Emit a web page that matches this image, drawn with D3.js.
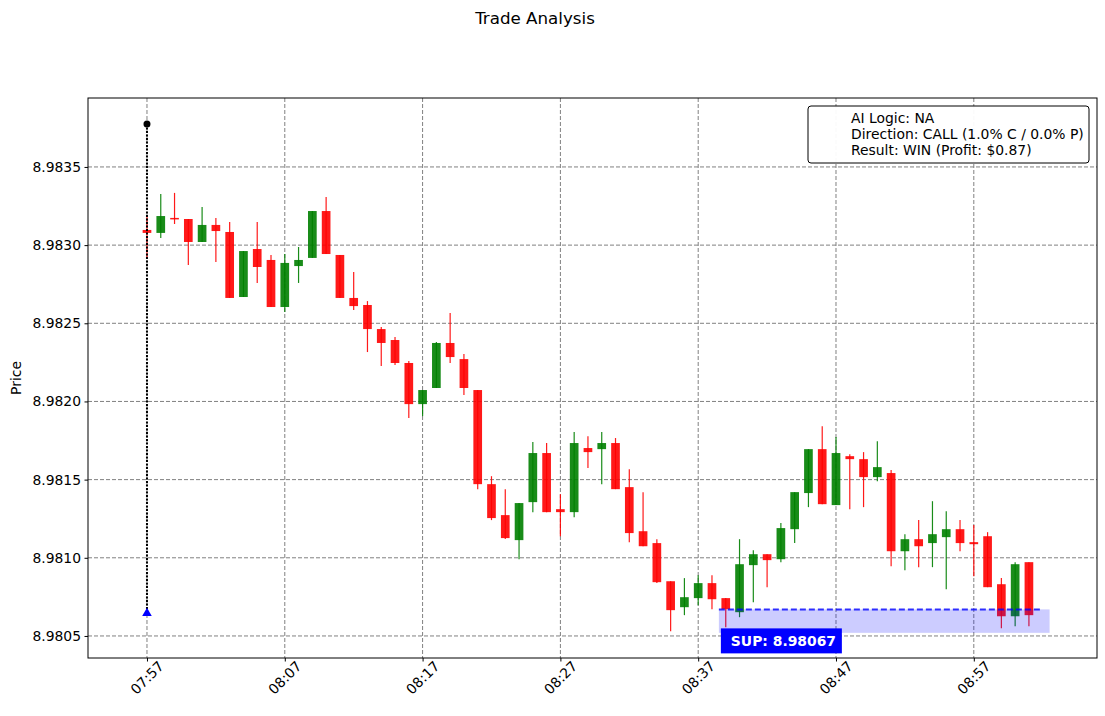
<!DOCTYPE html>
<html>
<head>
<meta charset="utf-8">
<script src="https://cdn.jsdelivr.net/npm/d3@7"></script>
<style>
  body { margin: 0; background: #fff; }
  text { font-family: "DejaVu Sans", sans-serif; }
</style>
</head>
<body>
<svg id="chart" width="1105" height="716"></svg>
<script>
// candle data, one per minute from 07:57
var times = ["07:57","07:58","07:59","08:00","08:01","08:02","08:03","08:04","08:05","08:06",
  "08:07","08:08","08:09","08:10","08:11","08:12","08:13","08:14","08:15","08:16",
  "08:17","08:18","08:19","08:20","08:21","08:22","08:23","08:24","08:25","08:26",
  "08:27","08:28","08:29","08:30","08:31","08:32","08:33","08:34","08:35","08:36",
  "08:37","08:38","08:39","08:40","08:41","08:42","08:43","08:44","08:45","08:46",
  "08:47","08:48","08:49","08:50","08:51","08:52","08:53","08:54","08:55","08:56",
  "08:57","08:58","08:59","09:00","09:01"];
var opens = [8.983097,8.983078,8.983174,8.983167,8.983020,8.983129,8.983084,8.982668,8.982975,8.982905,
  8.982604,8.982866,8.982918,8.983218,8.982937,8.982662,8.982617,8.982463,8.982393,8.982246,
  8.981983,8.982086,8.982374,8.982271,8.982073,8.981471,8.981273,8.981113,8.981356,8.981670,
  8.981311,8.981292,8.981702,8.981695,8.981734,8.981452,8.981170,8.981094,8.980850,8.980684,
  8.980742,8.980838,8.980742,8.980652,8.980953,8.981023,8.980991,8.981183,8.981414,8.981695,
  8.981337,8.981650,8.981631,8.981516,8.981542,8.981042,8.981119,8.981094,8.981132,8.981183,
  8.981100,8.981138,8.980831,8.980626,8.980972];
var highs = [8.983180,8.983327,8.983334,8.983167,8.983244,8.983174,8.983148,8.982962,8.983148,8.982937,
  8.982943,8.982988,8.983218,8.983308,8.982937,8.982828,8.982642,8.982476,8.982412,8.982258,
  8.982073,8.982380,8.982566,8.982303,8.982073,8.981522,8.981439,8.981350,8.981740,8.981734,
  8.981407,8.981804,8.981778,8.981804,8.981766,8.981567,8.981420,8.981119,8.980850,8.980870,
  8.980889,8.980889,8.980742,8.981119,8.981049,8.981023,8.981222,8.981420,8.981695,8.981842,
  8.981772,8.981663,8.981676,8.981746,8.981561,8.981151,8.981241,8.981362,8.981298,8.981241,
  8.981209,8.981164,8.980870,8.980972,8.980972];
var lows = [8.982924,8.983046,8.983135,8.982873,8.983020,8.982892,8.982662,8.982668,8.982758,8.982604,
  8.982572,8.982758,8.982918,8.982943,8.982662,8.982585,8.982316,8.982226,8.982233,8.981894,
  8.981906,8.982086,8.982246,8.982041,8.981439,8.981241,8.981120,8.980991,8.981292,8.981292,
  8.981138,8.981260,8.981574,8.981471,8.981439,8.981100,8.981074,8.980838,8.980530,8.980633,
  8.980697,8.980671,8.980556,8.980620,8.980716,8.980812,8.980972,8.981094,8.981324,8.981343,
  8.981337,8.981311,8.981324,8.981490,8.980946,8.980921,8.980940,8.980940,8.980799,8.981042,
  8.980882,8.980812,8.980550,8.980562,8.980562];
var closes = [8.983078,8.983186,8.983167,8.983020,8.983129,8.983090,8.982662,8.982962,8.982860,8.982604,
  8.982886,8.982905,8.983218,8.982943,8.982662,8.982610,8.982463,8.982374,8.982246,8.981983,
  8.982073,8.982374,8.982284,8.982086,8.981471,8.981254,8.981126,8.981350,8.981670,8.981292,
  8.981292,8.981734,8.981676,8.981734,8.981439,8.981158,8.981074,8.980844,8.980665,8.980748,
  8.980838,8.980735,8.980671,8.980959,8.981023,8.980985,8.981190,8.981420,8.981695,8.981343,
  8.981670,8.981631,8.981516,8.981580,8.981042,8.981119,8.981074,8.981151,8.981183,8.981094,
  8.981087,8.980812,8.980626,8.980959,8.980633];

var xTickLabels = ["07:57","08:07","08:17","08:27","08:37","08:47","08:57"];
var yTicks = [8.9805, 8.9810, 8.9815, 8.9820, 8.9825, 8.9830, 8.9835];

// trade markers and support zone
var entryTime = "07:57";
var entryTop = 8.983775;
var entryBottom = 8.980639;
var supLevel = 8.98067;
var supZoneLow = 8.98052;
var supStartMin = 41.5, supLineEndMin = 65.0, supZoneEndMin = 65.5;

var legendLines = ["AI Logic: NA", "Direction: CALL (1.0% C / 0.0% P)", "Result: WIN (Profit: $0.87)"];

var parseTime = d3.timeParse("%H:%M");
var fmt = d3.timeFormat("%H:%M");
var t0 = parseTime(times[0]);
var addMin = function (m) { return new Date(t0.getTime() + m * 60000); };

var data = times.map(function (t, i) {
  return { date: parseTime(t), open: opens[i], high: highs[i], low: lows[i], close: closes[i] };
});

var margin = { left: 88, top: 98, right: 1097, bottom: 658 };
var svg = d3.select("#chart");

var xScale = d3.scaleTime()
  .domain([addMin(-4.28), addMin(68.94)])
  .range([margin.left, margin.right]);
var yScale = d3.scaleLinear()
  .domain([8.980359, 8.983941])
  .range([margin.bottom, margin.top]);

var isUpDay = function (d) { return d.close > d.open; };
var bodyW = xScale(addMin(0.63)) - xScale(t0);

svg.append("text")
  .attr("x", 535).attr("y", 24)
  .attr("text-anchor", "middle")
  .attr("font-size", "16.7px")
  .text("Trade Analysis");

svg.append("clipPath").attr("id", "plot-clip")
  .append("rect")
  .attr("x", margin.left).attr("y", margin.top)
  .attr("width", margin.right - margin.left)
  .attr("height", margin.bottom - margin.top);

// grid
var grid = svg.append("g").attr("class", "grid");
grid.selectAll(".vgrid").data(xTickLabels).enter().append("line")
  .attr("x1", function (d) { return xScale(parseTime(d)); })
  .attr("x2", function (d) { return xScale(parseTime(d)); })
  .attr("y1", margin.top).attr("y2", margin.bottom)
  .attr("stroke", "#808080").attr("stroke-width", 1).attr("stroke-dasharray", "4,2");
grid.selectAll(".hgrid").data(yTicks).enter().append("line")
  .attr("x1", margin.left).attr("x2", margin.right)
  .attr("y1", function (d) { return yScale(d); })
  .attr("y2", function (d) { return yScale(d); })
  .attr("stroke", "#808080").attr("stroke-width", 1).attr("stroke-dasharray", "4,2");

var plot = svg.append("g").attr("clip-path", "url(#plot-clip)");

// candles
var bars = plot.selectAll(".bar").data(data).enter().append("g").attr("class", "bar");
bars.append("line")
  .attr("x1", function (d) { return xScale(d.date); })
  .attr("x2", function (d) { return xScale(d.date); })
  .attr("y1", function (d) { return yScale(d.high); })
  .attr("y2", function (d) { return yScale(d.low); })
  .attr("stroke", function (d) { return isUpDay(d) ? "green" : "red"; })
  .attr("stroke-opacity", 0.9)
  .attr("stroke-width", 1.2);
bars.append("rect")
  .attr("x", function (d) { return xScale(d.date) - bodyW / 2; })
  .attr("y", function (d) { return yScale(Math.max(d.open, d.close)); })
  .attr("width", bodyW)
  .attr("height", function (d) {
    return Math.max(1.5, Math.abs(yScale(d.open) - yScale(d.close)));
  })
  .attr("fill", function (d) { return isUpDay(d) ? "green" : "red"; })
  .attr("fill-opacity", 0.9);

// support zone
plot.append("rect")
  .attr("x", xScale(addMin(supStartMin)))
  .attr("y", yScale(supLevel))
  .attr("width", xScale(addMin(supZoneEndMin)) - xScale(addMin(supStartMin)))
  .attr("height", yScale(supZoneLow) - yScale(supLevel))
  .attr("fill", "blue").attr("fill-opacity", 0.2);
plot.append("line")
  .attr("x1", xScale(addMin(supStartMin)))
  .attr("x2", xScale(addMin(supLineEndMin)))
  .attr("y1", yScale(supLevel)).attr("y2", yScale(supLevel))
  .attr("stroke", "blue").attr("stroke-opacity", 0.8)
  .attr("stroke-width", 2).attr("stroke-dasharray", "6,3");

// entry marker
var ex = xScale(parseTime(entryTime));
plot.append("line")
  .attr("x1", ex).attr("x2", ex)
  .attr("y1", yScale(entryTop)).attr("y2", yScale(entryBottom))
  .attr("stroke", "black").attr("stroke-width", 2).attr("stroke-dasharray", "2,1.5");
plot.append("circle")
  .attr("cx", ex).attr("cy", yScale(entryTop)).attr("r", 3.5).attr("fill", "black");
plot.append("path")
  .attr("d", d3.symbol().type(d3.symbolTriangle).size(40))
  .attr("transform", "translate(" + ex + "," + (yScale(entryBottom) - 1) + ")")
  .attr("fill", "blue");

// support label
var supLabel = svg.append("g")
  .attr("transform", "translate(" + (xScale(addMin(supStartMin)) + 2) + "," + (yScale(supLevel) + 19) + ")");
supLabel.append("rect")
  .attr("x", 0).attr("y", 0).attr("width", 121).attr("height", 25)
  .attr("fill", "blue");
supLabel.append("text")
  .attr("x", 10).attr("y", 17.5)
  .attr("fill", "white").attr("font-weight", "bold").attr("font-size", "13.9px")
  .text("SUP: " + supLevel.toFixed(5));

// axes
var xAxis = d3.axisBottom(xScale)
  .tickValues(xTickLabels.map(parseTime))
  .tickFormat(fmt).tickSizeOuter(0).tickSize(3.5).tickPadding(3.5);
var gx = svg.append("g").attr("transform", "translate(0," + margin.bottom + ")").call(xAxis);
gx.select(".domain").remove();
gx.selectAll("text")
  .attr("font-size", "13.9px").attr("fill", "black")
  .attr("text-anchor", "middle")
  .attr("transform", function () { return "translate(0,20) rotate(-45)"; })
  .attr("dy", "0.32em").attr("y", 0);

var yAxis = d3.axisLeft(yScale)
  .tickValues(yTicks).tickFormat(d3.format(".4f"))
  .tickSizeOuter(0).tickSize(3.5).tickPadding(3.5);
var gy = svg.append("g").attr("transform", "translate(" + margin.left + ",0)").call(yAxis);
gy.select(".domain").remove();
gy.selectAll("text").attr("font-size", "13.9px").attr("fill", "black");

svg.append("text")
  .attr("transform", "translate(21," + (margin.top + margin.bottom) / 2 + ") rotate(-90)")
  .attr("text-anchor", "middle").attr("font-size", "13.9px")
  .text("Price");

svg.append("rect")
  .attr("x", margin.left).attr("y", margin.top)
  .attr("width", margin.right - margin.left)
  .attr("height", margin.bottom - margin.top)
  .attr("fill", "none").attr("stroke", "black").attr("stroke-width", 1);

// legend
var legend = svg.append("g").attr("transform", "translate(808,106)");
legend.append("rect")
  .attr("x", 0).attr("y", 0).attr("width", 281).attr("height", 57)
  .attr("rx", 3).attr("fill", "white").attr("fill-opacity", 0.95)
  .attr("stroke", "black").attr("stroke-width", 1);
legend.selectAll(".leg-text").data(legendLines).enter().append("text")
  .attr("x", 43)
  .attr("y", function (d, i) { return 17 + i * 16; })
  .attr("font-size", "13.9px")
  .text(function (d) { return d; });
</script>
</body>
</html>
